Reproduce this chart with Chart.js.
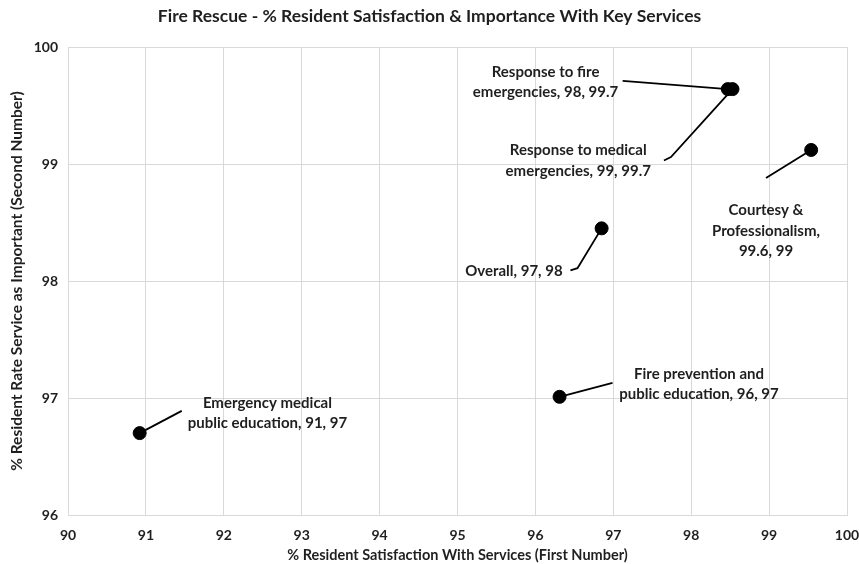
<!DOCTYPE html>
<html>
<head>
<meta charset="utf-8">
<script src="https://cdn.jsdelivr.net/npm/chart.js@4"></script>
<style>
  html, body { margin: 0; padding: 0; background: #fff; }
  #wrap { width: 859px; height: 564px; }
</style>
</head>
<body>
<div id="wrap"><canvas id="scatterChart" width="859" height="564"></canvas></div>
<script>
// Dữ liệu
const serviceNames = [
  ['Emergency medical', 'public education, 91, 97'],
  ['Fire prevention and', 'public education, 96, 97'],
  ['Overall, 97, 98'],
  ['Response to fire', 'emergencies, 98, 99.7'],
  ['Response to medical', 'emergencies, 99, 99.7'],
  ['Courtesy &', 'Professionalism,', '99.6, 99']
];
const satisfaction = [90.92, 96.31, 96.85, 98.47, 98.53, 99.54];
const importance = [96.70, 97.01, 98.45, 99.64, 99.64, 99.12];
const xTicks = [90, 91, 92, 93, 94, 95, 96, 97, 98, 99, 100];
const yTicks = [96, 97, 98, 99, 100];

// Vị trí nhãn (đơn vị dữ liệu) và đường dẫn
const labelPlacement = [
  { x: 92.56, y: 96.87, align: 'center', leader: [[91.46, 96.89]] },
  { x: 98.10, y: 97.12, align: 'center', leader: [[96.99, 97.13]] },
  { x: 96.35, y: 98.08, align: 'right', leader: [[96.54, 98.11], [96.45, 98.09]] },
  { x: 96.13, y: 99.70, align: 'center', leader: [[97.12, 99.71]] },
  { x: 96.55, y: 99.03, align: 'center', leader: [[97.74, 99.06], [97.65, 99.03]] },
  { x: 98.96, y: 98.43, align: 'center', leader: [[98.96, 98.88]] }
];

const FONT = '"Liberation Sans Narrow", Lato, sans-serif';
const textColor = '#1f1f1f';

// Plugin vẽ nhãn dữ liệu và đường dẫn
const leaderLabels = {
  id: 'leaderLabels',
  afterDatasetsDraw(chart) {
    const c = chart.ctx;
    const xs = chart.scales.x, ys = chart.scales.y;
    c.save();
    labelPlacement.forEach((p, i) => {
      const px = xs.getPixelForValue(satisfaction[i]);
      const py = ys.getPixelForValue(importance[i]);
      c.beginPath();
      c.moveTo(px, py);
      p.leader.forEach(pt => c.lineTo(xs.getPixelForValue(pt[0]), ys.getPixelForValue(pt[1])));
      c.strokeStyle = '#000';
      c.lineWidth = 1.8;
      c.stroke();

      const lines = serviceNames[i];
      const lh = 20.5;
      const cx = xs.getPixelForValue(p.x);
      const cy = ys.getPixelForValue(p.y);
      c.font = 'bold 15px ' + FONT;
      c.fillStyle = textColor;
      c.textAlign = p.align;
      c.textBaseline = 'middle';
      lines.forEach((t, k) => {
        c.fillText(t, cx, cy + (k - (lines.length - 1) / 2) * lh);
      });
    });
    c.restore();
  }
};

const ctx = document.getElementById('scatterChart').getContext('2d');
const chart = new Chart(ctx, {
  type: 'scatter',
  data: {
    datasets: [{
      label: 'Services',
      data: satisfaction.map((v, i) => ({ x: v, y: importance[i] })),
      backgroundColor: '#000',
      borderColor: '#000',
      pointRadius: 6.5,
      pointHoverRadius: 6.5
    }]
  },
  options: {
    responsive: false,
    animation: false,
    layout: { padding: { left: 0, right: 0, top: 0, bottom: 0 } },
    plugins: {
      legend: { display: false },
      tooltip: { enabled: false },
      title: {
        display: true,
        text: 'Fire Rescue - % Resident Satisfaction & Importance With Key Services',
        color: textColor,
        font: { family: FONT, size: 17.5, weight: 'bold' },
        padding: { top: 6, bottom: 20 }
      }
    },
    scales: {
      x: {
        type: 'linear',
        min: 90,
        max: 100,
        afterBuildTicks: s => { s.ticks = xTicks.map(v => ({ value: v })); },
        afterFit: s => { s.height = 49; s.paddingRight = 12; s.paddingLeft = 0; },
        grid: { color: '#d9d9d9', drawTicks: false },
        border: { color: '#d9d9d9' },
        ticks: { color: textColor, padding: 12, font: { family: FONT, size: 14, weight: 'bold' } },
        title: {
          display: true,
          text: '% Resident Satisfaction With Services (First Number)',
          color: textColor,
          font: { family: FONT, size: 14.5, weight: 'bold' },
          padding: { top: 4, bottom: 0 }
        }
      },
      y: {
        type: 'linear',
        min: 96,
        max: 100,
        afterBuildTicks: s => { s.ticks = yTicks.map(v => ({ value: v })); },
        afterFit: s => { s.width = 68; },
        grid: { color: '#d9d9d9', drawTicks: false },
        border: { color: '#d9d9d9' },
        ticks: { color: textColor, padding: 10, font: { family: FONT, size: 14, weight: 'bold' } },
        title: {
          display: true,
          text: '% Resident Rate Service as Important (Second Number)',
          color: textColor,
          font: { family: FONT, size: 15.5, weight: 'bold' },
          padding: { top: 8, bottom: 0 }
        }
      }
    }
  },
  plugins: [leaderLabels]
});
</script>
</body>
</html>
